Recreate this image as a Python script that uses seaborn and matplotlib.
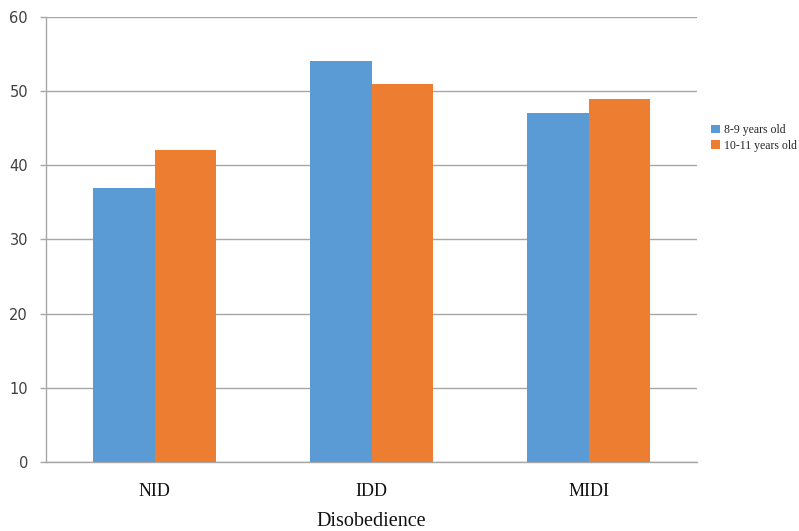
import matplotlib
matplotlib.use("Agg")
import matplotlib.pyplot as plt
import seaborn as sns
import pandas as pd

categories = ["NID", "IDD", "MIDI"]
groups = ["8-9 years old", "10-11 years old"]
values_8_9 = [37, 54, 47]
values_10_11 = [42, 51, 49]
y_ticks = [0, 10, 20, 30, 40, 50, 60]

df = pd.DataFrame({
    "category": categories * 2,
    "group": [groups[0]] * 3 + [groups[1]] * 3,
    "value": values_8_9 + values_10_11,
})

sns.set_style("white")
palette = {groups[0]: "#5B9BD5", groups[1]: "#ED7D31"}

fig = plt.figure(figsize=(7.99, 5.31), dpi=100)
ax = fig.add_axes([0.0576, 0.130, 0.8148, 0.838])

sns.barplot(data=df, x="category", y="value", hue="group", order=categories,
            hue_order=groups, palette=palette, width=0.57, gap=0,
            saturation=1, linewidth=0, ax=ax, legend=True, zorder=3)

grid_col = "#A6A6A6"
ax.set_ylim(0, 60)
ax.set_yticks(y_ticks)
ax.yaxis.grid(True, color=grid_col, linewidth=1.0, zorder=0)
ax.set_axisbelow(True)
for side in ["top", "right"]:
    ax.spines[side].set_visible(False)
for side in ["left", "bottom"]:
    ax.spines[side].set_color(grid_col)
    ax.spines[side].set_linewidth(1.0)

ax.tick_params(axis="y", length=4, width=1.0, color=grid_col, labelsize=10.5,
               labelcolor="#404040", pad=9, left=True)
ax.tick_params(axis="x", length=0, pad=15)
for lab in ax.get_yticklabels():
    lab.set_fontfamily("DejaVu Sans")
for lab in ax.get_xticklabels():
    lab.set_fontfamily("Liberation Serif")
    lab.set_fontsize(13)
    lab.set_color("#111111")

ax.set_ylabel("")
ax.set_xlabel("Disobedience", fontfamily="Liberation Serif", fontsize=14.5,
              color="#111111", labelpad=9)

leg = ax.legend(loc="upper left", bbox_to_anchor=(0.8836, 0.775),
                bbox_transform=fig.transFigure, frameon=False,
                prop={"family": "Liberation Serif", "size": 8.5},
                handlelength=0.75, handleheight=0.75, handletextpad=0.4,
                labelspacing=0.3, borderaxespad=0)

fig.savefig("out.png", dpi=100)
